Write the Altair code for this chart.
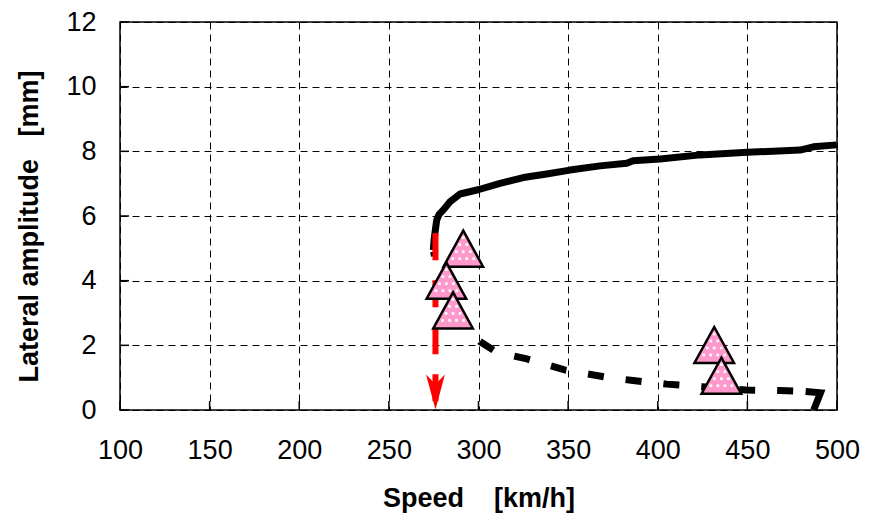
import altair as alt
import pandas as pd

FONT = "Liberation Sans"

# axis ticks
speed_ticks = [100, 150, 200, 250, 300, 350, 400, 450, 500]
amp_ticks = [0, 2, 4, 6, 8, 10, 12]

# stable branch (solid black)
stable_speed = [274.8, 275.3, 276.0, 276.7, 278.0, 280.4, 284.1, 289.7, 300.3, 312.0, 325.0,
                338.0, 351.0, 367.8, 382.7, 386.2, 401.3, 423.6, 450.1, 479.4, 486.8, 499.8]
stable_amp = [4.95, 5.3, 5.6, 5.88, 6.05, 6.19, 6.44, 6.68, 6.82, 7.01, 7.19,
              7.30, 7.42, 7.55, 7.63, 7.71, 7.76, 7.89, 7.97, 8.04, 8.14, 8.20]

# unstable branch (dashed black)
unstable_speed = [275.0, 276.5, 279.0, 283.0, 286.0, 290.0, 294.0, 300.8, 310.3, 327.0, 348.0,
                  370.6, 386.2, 405.0, 424.7, 449.2, 468.2, 480.0]
unstable_amp = [4.9, 4.4, 4.0, 3.6, 3.3, 2.9, 2.55, 2.12, 1.78, 1.58, 1.24,
                1.02, 0.91, 0.80, 0.72, 0.62, 0.60, 0.58]

# end of the unstable branch (solid hook)
hook_speed = [482.5, 490.8, 487.0]
hook_amp = [0.57, 0.53, 0.0]

# critical speed drop (red dashed arrow)
onset_speed = [276.0, 276.0]
onset_amp = [5.47, 0.0]

# test results (pink triangles)
test_speed = [291.5, 282.1, 285.8, 431.5, 435.5]
test_amp = [4.99, 4.00, 3.08, 2.01, 1.06]

stable = pd.DataFrame({"speed": stable_speed, "amp": stable_amp, "i": list(range(len(stable_speed)))})
unstable = pd.DataFrame({"speed": unstable_speed, "amp": unstable_amp, "i": list(range(len(unstable_speed)))})
hook = pd.DataFrame({"speed": hook_speed, "amp": hook_amp, "i": list(range(len(hook_speed)))})
onset = pd.DataFrame({"speed": onset_speed, "amp": onset_amp, "i": [0, 1]})
tests = pd.DataFrame({"speed": test_speed, "amp": test_amp, "k": list(range(len(test_speed)))})

x_scale = alt.Scale(domain=[100, 500], nice=False, zero=False)
y_scale = alt.Scale(domain=[0, 12], nice=False)

NB = "\u00a0"
x_axis = alt.Axis(values=speed_ticks, title="Speed" + NB * 4 + "[km/h]", grid=True,
                  gridColor="black", gridDash=[7, 5], gridWidth=1,
                  domain=False, ticks=False, labelFont=FONT, labelFontSize=27,
                  labelColor="black", labelPadding=27, labelFlush=False,
                  titleFont=FONT, titleFontSize=27, titleFontWeight="bold",
                  titleColor="black", titlePadding=22)
y_axis = alt.Axis(values=amp_ticks, title="Lateral amplitude" + NB * 3 + "[mm]", grid=True,
                  gridColor="black", gridDash=[7, 5], gridWidth=1,
                  domain=False, ticks=False, labelFont=FONT, labelFontSize=27,
                  labelColor="black", labelPadding=24, labelFlush=False,
                  titleFont=FONT, titleFontSize=27, titleFontWeight="bold",
                  titleColor="black", titlePadding=22, titleY=204)

X = alt.X("speed:Q", scale=x_scale, axis=x_axis)
Y = alt.Y("amp:Q", scale=y_scale, axis=y_axis)

stable_line = alt.Chart(stable).mark_line(color="black", strokeWidth=7, strokeJoin="round").encode(
    x=X, y=Y, order="i:Q",
)

unstable_line = alt.Chart(unstable).mark_line(
    color="black", strokeWidth=7, strokeDash=[16, 22], strokeDashOffset=11.4, strokeCap="butt"
).encode(x=X, y=Y, order="i:Q")

hook_line = alt.Chart(hook).mark_line(color="black", strokeWidth=7, strokeJoin="miter").encode(
    x=X, y=Y, order="i:Q",
)

onset_line = alt.Chart(onset).mark_line(color="#FF0000", strokeWidth=6, strokeDash=[27, 20]).encode(
    x=X, y=Y, order="i:Q",
)

arrow = alt.Chart(onset.iloc[[1]]).mark_point(
    shape="M-0.54,-1L0,-0.45L0.54,-1L0,1Z", size=1225, filled=True, color="#FF0000",
    opacity=1, yOffset=-18,
).encode(x=X, y=Y)

xticks = alt.Chart(pd.DataFrame({"speed": speed_ticks})).mark_rule(
    color="black", strokeWidth=1.5).encode(
    x=X, y=alt.value(388), y2=alt.value(379),
)
yticks = alt.Chart(pd.DataFrame({"amp": amp_ticks})).mark_rule(color="black", strokeWidth=1.5).encode(
    y=Y, x=alt.value(0), x2=alt.value(9),
)

tri = alt.Chart(tests).mark_point(
    shape="M0,-1L1.1,1L-1.1,1Z", size=1296, filled=True, fill="#FF99CC",
    stroke="black", strokeWidth=2.5, opacity=1, fillOpacity=1,
).encode(x=X, y=Y, order="k:Q")

# white dotted texture of the triangle fill (pixel offsets from the marker centre)
dot_layers = []
for r, dy in enumerate([-11, -4, 3, 10]):
    shift = 3.5 if r % 2 else 0.0
    half = 0.55 * (dy + 18) - 3.5
    for c in range(-3, 4):
        dx = c * 7 + shift
        if abs(dx) <= half:
            dot_layers.append(
                alt.Chart(tests).mark_square(size=7, color="white", opacity=1,
                                             xOffset=dx, yOffset=dy).encode(x=X, y=Y)
            )

chart = alt.layer(
    stable_line, xticks, yticks, unstable_line, hook_line, onset_line, arrow, tri, *dot_layers
).properties(
    width=717, height=388,
    autosize=alt.AutoSizeParams(type="none"),
    padding={"left": 120, "top": 22, "right": 36, "bottom": 111},
).configure(background="white").configure_view(stroke="black", strokeWidth=1.5)

chart.save("out.html", embed_options={"renderer": "svg", "actions": False})
